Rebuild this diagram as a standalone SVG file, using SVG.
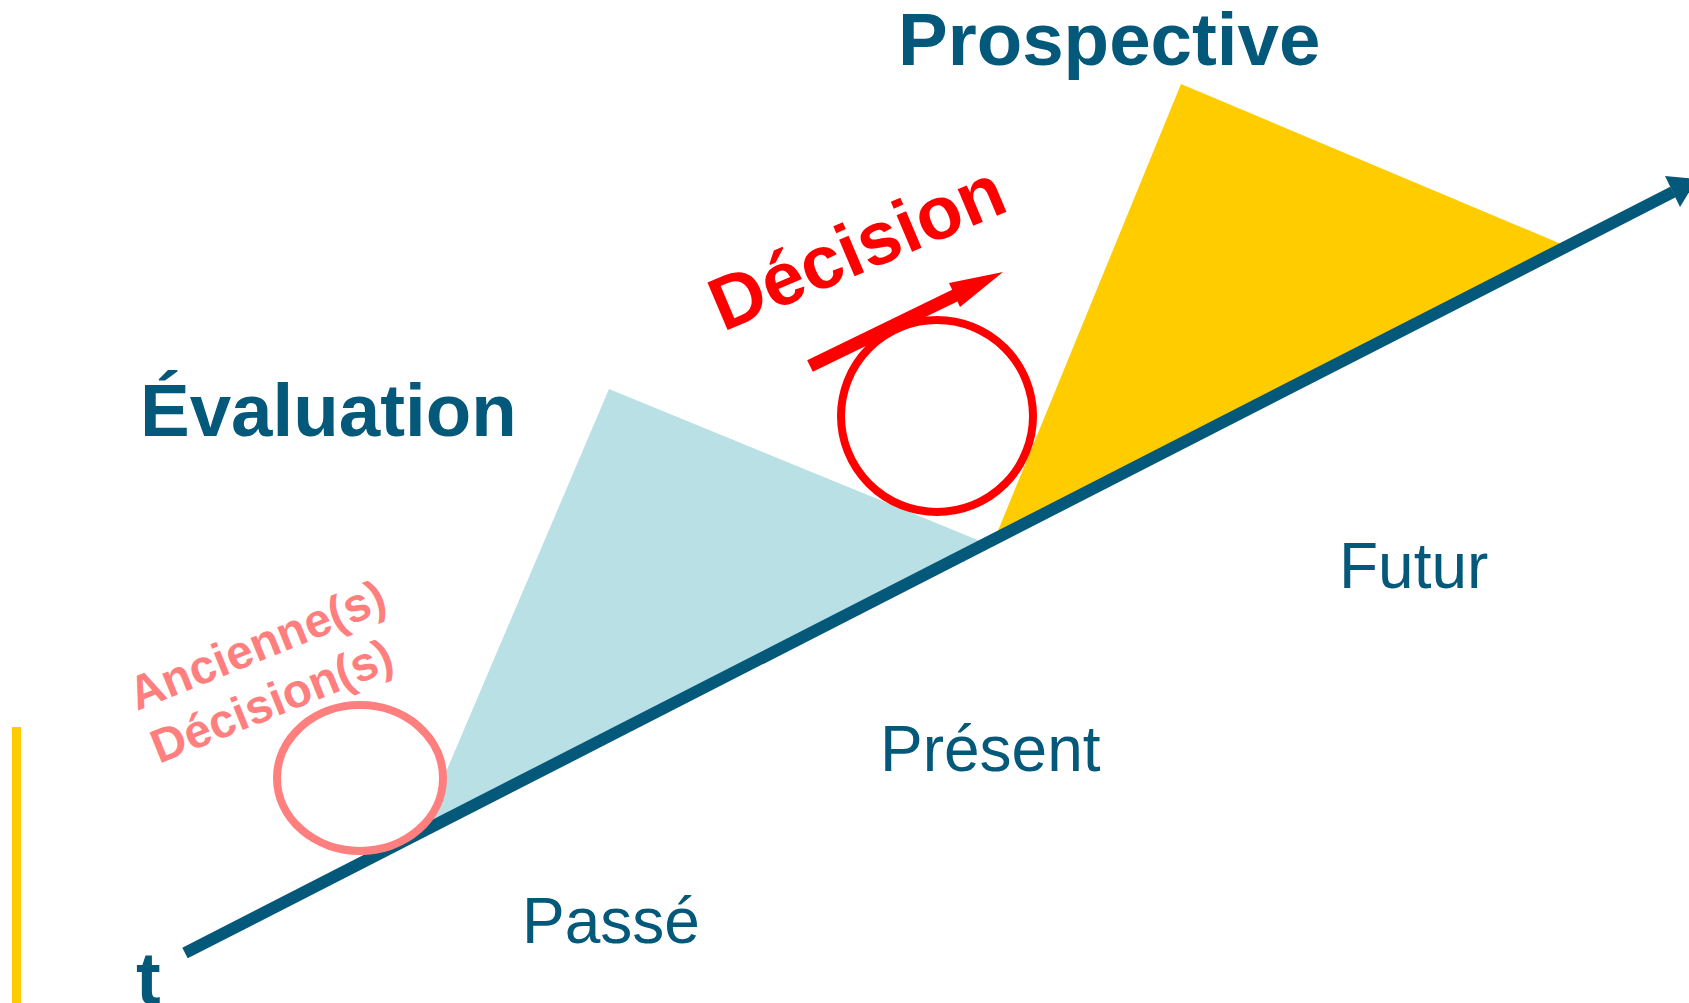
<svg xmlns="http://www.w3.org/2000/svg" width="1689" height="1003" viewBox="0 0 1689 1003">
<style>
.teal{fill:#04587A;font-family:"Liberation Sans",Arial,sans-serif}
.b{font-weight:bold}
.big{font-size:74.5px}
.mid{font-size:64px}
.pink{fill:#FF7F7F;font-family:"Liberation Sans",Arial,sans-serif;font-weight:bold;font-size:47.5px}
.red{fill:#FF0000;font-family:"Liberation Sans",Arial,sans-serif;font-weight:bold;font-size:75px}
</style>
<rect width="1689" height="1003" fill="#FFFFFF"/>
<g id="bar"><rect x="12" y="727" width="9" height="276" fill="#FFCC00"/></g>
<g id="evaluation-wedge"><polygon points="609,389 985,543 420,833" fill="#B9E0E4"/></g>
<g id="prospective-wedge"><polygon points="1181,84 1566,246 995,538" fill="#FFCC00"/></g>
<g id="connectors">
<line x1="185" y1="953" x2="1673" y2="192" stroke="#04587A" stroke-width="12"/>
<polygon points="1665,176 1680,207 1697,179" fill="#04587A"/>
<line x1="810" y1="366" x2="956" y2="295" stroke="#FF0000" stroke-width="13"/>
<polygon points="949,283 960,307 1003,272" fill="#FF0000"/>
</g>
<g id="old-decision">
<ellipse cx="360" cy="778" rx="83" ry="73" fill="#FFFFFF" stroke="#FF7F7F" stroke-width="8"/>
<text class="pink" transform="translate(137,711) rotate(-22)">Ancienne(s)</text>
<text class="pink" transform="translate(159,764) rotate(-22)">Décision(s)</text>
</g>
<g id="decision">
<circle cx="937" cy="416" r="96" fill="none" stroke="#FF0000" stroke-width="8"/>
<text class="red" transform="translate(723,332) rotate(-23)">Décision</text>
</g>
<g id="labels">
<text class="teal b big" x="898" y="65">Prospective</text>
<text class="teal b big" x="140" y="436">Évaluation</text>
<text class="teal mid" x="1339" y="588">Futur</text>
<text class="teal mid" x="880" y="771">Présent</text>
<text class="teal mid" x="522" y="943">Passé</text>
<text class="teal b" style="font-size:74px" x="136" y="1004">t</text>
</g>
</svg>
